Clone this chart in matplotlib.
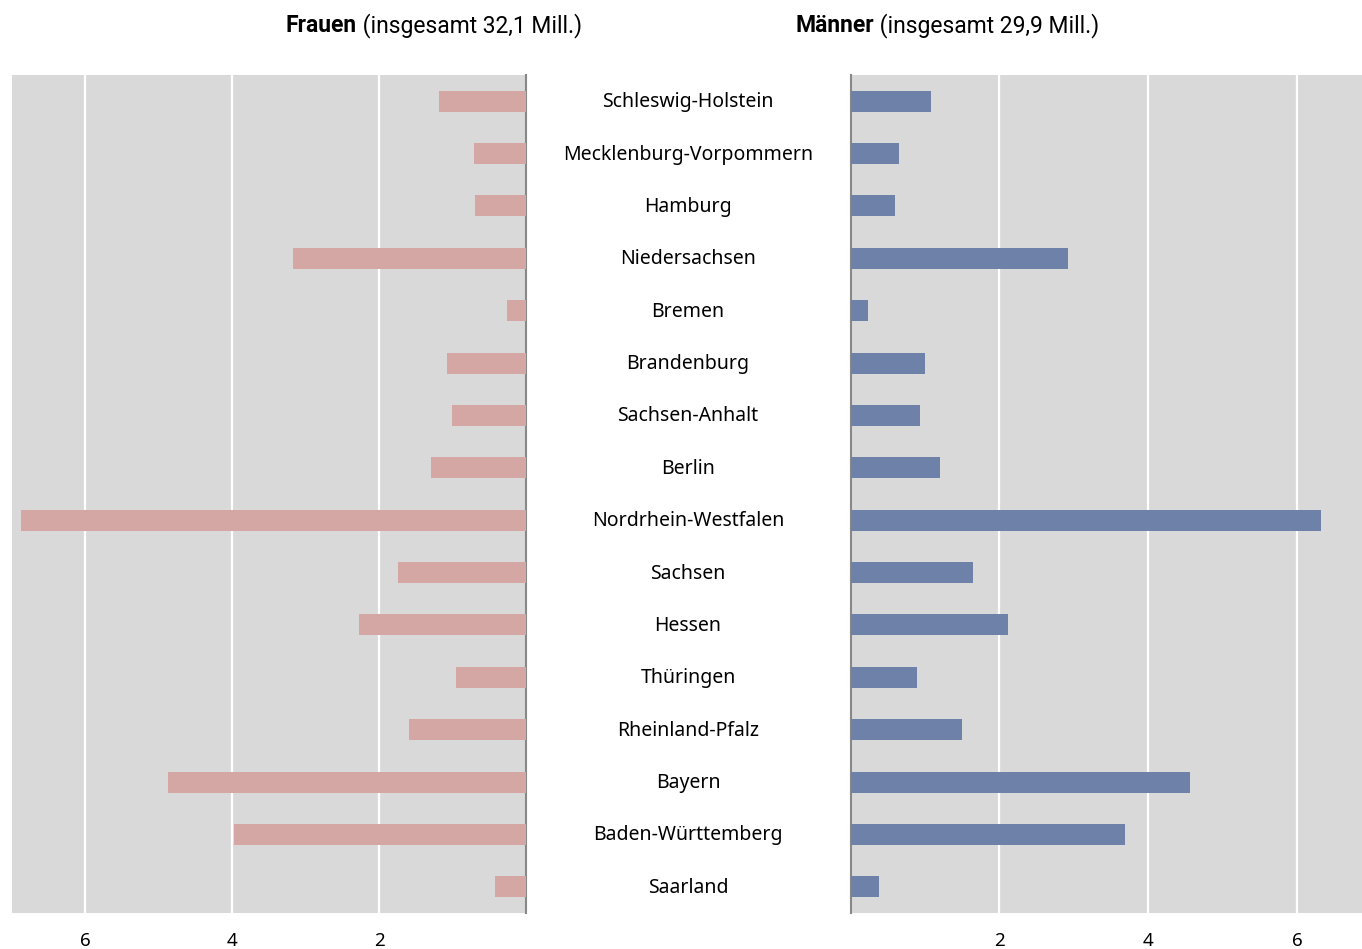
import matplotlib.pyplot as plt

plt.rcParams['font.family'] = ['Noto Sans', 'DejaVu Sans']

laender = ['Schleswig-Holstein', 'Mecklenburg-Vorpommern', 'Hamburg', 'Niedersachsen',
           'Bremen', 'Brandenburg', 'Sachsen-Anhalt', 'Berlin', 'Nordrhein-Westfalen',
           'Sachsen', 'Hessen', 'Thüringen', 'Rheinland-Pfalz', 'Bayern',
           'Baden-Württemberg', 'Saarland']
frauen = [1.18, 0.71, 0.69, 3.17, 0.26, 1.07, 1.01, 1.30, 6.88, 1.75, 2.28, 0.95,
          1.60, 4.88, 3.98, 0.42]
maenner = [1.08, 0.65, 0.59, 2.92, 0.23, 1.00, 0.93, 1.20, 6.32, 1.64, 2.12, 0.89,
           1.49, 4.56, 3.69, 0.38]
ticks = [2, 4, 6]

W, H = 1362, 949
fig = plt.figure(figsize=(W / 100, H / 100), dpi=100)

bottom = (H - 913) / H
height = (913 - 75) / H
ax_l = fig.add_axes([12 / W, bottom, (526 - 12) / W, height])
ax_r = fig.add_axes([850.6 / W, bottom, (W - 850.6) / W, height])

y = list(range(len(laender)))
ax_l.barh(y, frauen, height=0.4, color='#d4a7a4', zorder=3)
ax_r.barh(y, maenner, height=0.4, color='#6e82a9', zorder=3)

ax_l.set_xlim(7.0, 0)
ax_r.set_xlim(0, 6.87)

for ax in (ax_l, ax_r):
    ax.set_facecolor('#d9d9d9')
    ax.set_ylim(len(laender) - 0.5, -0.5)
    ax.set_yticks([])
    ax.set_xticks(ticks)
    ax.set_xticklabels([str(t) for t in ticks], fontsize=13.5)
    ax.tick_params(axis='x', length=0, pad=14)
    ax.grid(axis='x', color='white', linewidth=1.6, zorder=1)
    for s in ax.spines.values():
        s.set_visible(False)

ax_l.spines['right'].set_visible(True)
ax_l.spines['right'].set_color('#888888')
ax_l.spines['right'].set_linewidth(1.5)
ax_r.spines['left'].set_visible(True)
ax_r.spines['left'].set_color('#888888')
ax_r.spines['left'].set_linewidth(1.5)

# Ländernamen in der Mitte
for i, name in enumerate(laender):
    yy = ax_l.transData.transform((0, i))[1]
    fig.text(688 / W, (yy - 1) / H, name, ha='center', va='center', fontsize=14)


def title(cx, bold, rest):
    renderer = fig.canvas.get_renderer()
    t1 = fig.text(0, 0, bold, fontsize=16.5, fontweight='bold', va='center',
                  family=['Roboto', 'DejaVu Sans'])
    t2 = fig.text(0, 0, rest, fontsize=16.5, va='center',
                  family=['Roboto', 'DejaVu Sans'])
    w1 = t1.get_window_extent(renderer).width
    w2 = t2.get_window_extent(renderer).width
    x0 = cx - (w1 + w2) / 2
    yy = (H - 26) / H
    t1.set_position((x0 / W, yy))
    t2.set_position(((x0 + w1) / W, yy))


title(434, 'Frauen', ' (insgesamt 32,1 Mill.)')
title(947, 'Männer', ' (insgesamt 29,9 Mill.)')

fig.savefig('out.png', dpi=100)
